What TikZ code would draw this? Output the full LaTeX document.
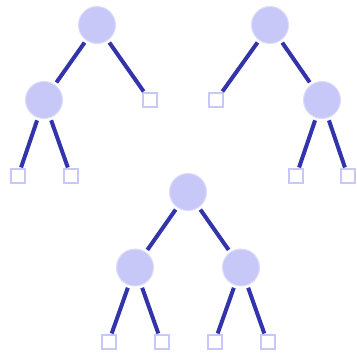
\documentclass[tikz,border=0pt]{standalone}
\begin{document}
\begin{tikzpicture}[x=1pt,y=-1pt,
  inner/.style={circle,fill=nodefill,draw=nodeedge,line width=1pt,minimum size=37pt,inner sep=0pt,outer sep=3pt},
  leaf/.style={rectangle,draw=nodefill,line width=2pt,minimum size=14pt,inner sep=0pt,outer sep=2pt,fill=white},
  edge/.style={draw=edgecol,line width=4pt}]
\definecolor{nodefill}{RGB}{200,200,248}
\definecolor{nodeedge}{RGB}{220,220,252}
\definecolor{edgecol}{RGB}{51,51,170}
\useasboundingbox (0,0) rectangle (357,353);
% tree 1
\node[inner] (a) at (97,25) {};
\node[inner] (b) at (44,100) {};
\node[leaf] (c) at (150,100.5) {};
\node[leaf] (d) at (18,176.5) {};
\node[leaf] (e) at (71,176.5) {};
\draw[edge] (a) -- (b);
\draw[edge] (a) -- (c);
\draw[edge] (b) -- (d);
\draw[edge] (b) -- (e);
% tree 2
\node[inner] (f) at (270,25) {};
\node[inner] (g) at (322,100) {};
\node[leaf] (h) at (216,100.5) {};
\node[leaf] (i) at (296,176.5) {};
\node[leaf] (j) at (348,176.5) {};
\draw[edge] (f) -- (h);
\draw[edge] (f) -- (g);
\draw[edge] (g) -- (i);
\draw[edge] (g) -- (j);
% tree 3
\node[inner] (k) at (188,192) {};
\node[inner] (l) at (135,267.5) {};
\node[inner] (m) at (241,267.5) {};
\node[leaf] (n) at (108.5,342.5) {};
\node[leaf] (o) at (161.5,342.5) {};
\node[leaf] (p) at (214.5,342.5) {};
\node[leaf] (q) at (267.5,342.5) {};
\draw[edge] (k) -- (l);
\draw[edge] (k) -- (m);
\draw[edge] (l) -- (n);
\draw[edge] (l) -- (o);
\draw[edge] (m) -- (p);
\draw[edge] (m) -- (q);
\end{tikzpicture}
\end{document}
